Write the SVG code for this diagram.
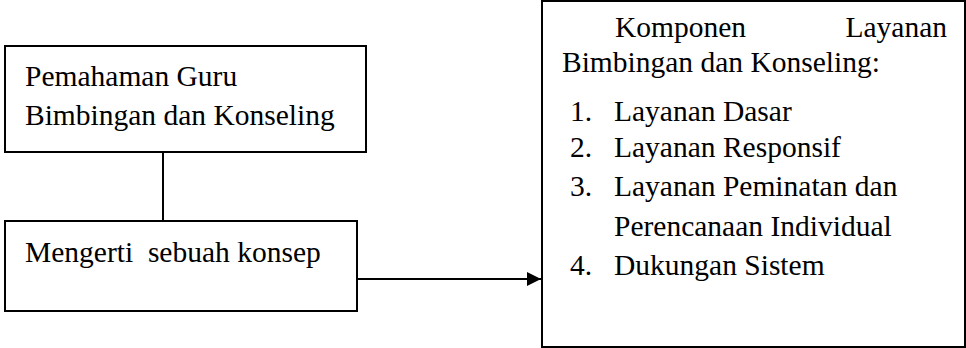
<svg xmlns="http://www.w3.org/2000/svg" width="966" height="348" viewBox="0 0 966 348">
<style>
.box{fill:#fff;stroke:#000;stroke-width:2}
.c{stroke:#000;stroke-width:2;fill:none}
</style>
<defs>
<marker id="ah" viewBox="0 0 10 10" refX="10" refY="5" markerWidth="7.5" markerHeight="7" markerUnits="strokeWidth" orient="auto">
<path d="M0,0 L10,5 L0,10 z" fill="#000"/>
</marker>
</defs>
<g id="connectors">
<line class="c" x1="163" y1="152" x2="163" y2="221"/>
<line class="c" x1="357" y1="279" x2="541" y2="279" marker-end="url(#ah)"/>
</g>
<g font-family="Liberation Serif, Times New Roman, serif" font-size="29.5" fill="#000">
<g id="node-pemahaman">
<rect class="box" x="5" y="46" width="361" height="106"/>
<text x="25" y="86">Pemahaman Guru</text>
<text x="25" y="125">Bimbingan dan Konseling</text>
</g>
<g id="node-mengerti">
<rect class="box" x="5" y="221" width="352" height="90"/>
<text x="25" y="262" xml:space="preserve">Mengerti  sebuah konsep</text>
</g>
<g id="node-komponen">
<rect class="box" x="542" y="1" width="423" height="346"/>
<text x="615" y="37">Komponen</text>
<text x="947" y="37" text-anchor="end">Layanan</text>
<text x="562" y="72">Bimbingan dan Konseling:</text>
<text x="570" y="121">1.</text>
<text x="614" y="121">Layanan Dasar</text>
<text x="570" y="157">2.</text>
<text x="614" y="157">Layanan Responsif</text>
<text x="570" y="196">3.</text>
<text x="614" y="196">Layanan Peminatan dan</text>
<text x="614" y="236">Perencanaan Individual</text>
<text x="570" y="275">4.</text>
<text x="614" y="275">Dukungan Sistem</text>
</g>
</g>
</svg>
